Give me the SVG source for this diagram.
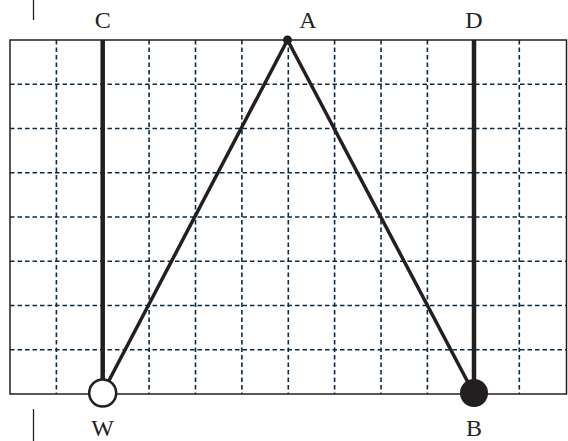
<svg xmlns="http://www.w3.org/2000/svg" width="568" height="441" viewBox="0 0 568 441">
<style>
.grid line{stroke:#0b2b45;stroke-width:1.6;stroke-dasharray:4.5 3}
.lbl{font-family:"Liberation Serif","DejaVu Serif","Times New Roman",serif;font-size:24px;fill:#222;text-anchor:middle}
.rod{stroke:#231f20;stroke-width:4.5;fill:none}
.rope{stroke:#231f20;stroke-width:3.5;fill:none}
</style>
<rect width="568" height="441" fill="#fff"/>
<g id="frame">
<rect x="10" y="40" width="556.5" height="354" fill="none" stroke="#231f20" stroke-width="1.5"/>
</g>
<g class="grid" id="grid">
<line x1="56.4" y1="40" x2="56.4" y2="394"/>
<line x1="149.1" y1="40" x2="149.1" y2="394"/>
<line x1="195.5" y1="40" x2="195.5" y2="394"/>
<line x1="241.9" y1="40" x2="241.9" y2="394"/>
<line x1="288.3" y1="40" x2="288.3" y2="394"/>
<line x1="334.6" y1="40" x2="334.6" y2="394"/>
<line x1="381" y1="40" x2="381" y2="394"/>
<line x1="427.4" y1="40" x2="427.4" y2="394"/>
<line x1="519.3" y1="40" x2="519.3" y2="394"/>
<line x1="10" y1="84.25" x2="566.5" y2="84.25"/>
<line x1="10" y1="128.5" x2="566.5" y2="128.5"/>
<line x1="10" y1="172.75" x2="566.5" y2="172.75"/>
<line x1="10" y1="217" x2="566.5" y2="217"/>
<line x1="10" y1="261.25" x2="566.5" y2="261.25"/>
<line x1="10" y1="305.5" x2="566.5" y2="305.5"/>
<line x1="10" y1="349.75" x2="566.5" y2="349.75"/>
</g>
<g id="ticks" stroke="#231f20" stroke-width="1.3">
<line x1="33.5" y1="0" x2="33.5" y2="20"/>
<line x1="33.5" y1="409" x2="33.5" y2="441"/>
</g>
<g id="connectors">
<line class="rod" x1="102.7" y1="40" x2="102.7" y2="393"/>
<line class="rod" x1="474" y1="40" x2="474" y2="393"/>
<line class="rope" x1="287.5" y1="40" x2="104" y2="390"/>
<line class="rope" x1="287.5" y1="40" x2="472" y2="390"/>
</g>
<g id="A">
<circle cx="287.5" cy="40" r="4.5" fill="#231f20"/>
<text class="lbl" x="308" y="28">A</text>
</g>
<g id="C"><text class="lbl" x="102.7" y="28">C</text></g>
<g id="D"><text class="lbl" x="474" y="28">D</text></g>
<g id="W">
<circle cx="102.7" cy="393" r="13.5" fill="#fff" stroke="#231f20" stroke-width="2.5"/>
<text class="lbl" x="102.7" y="436">W</text>
</g>
<g id="B">
<circle cx="474" cy="393" r="14" fill="#231f20"/>
<text class="lbl" x="474" y="436">B</text>
</g>
</svg>
